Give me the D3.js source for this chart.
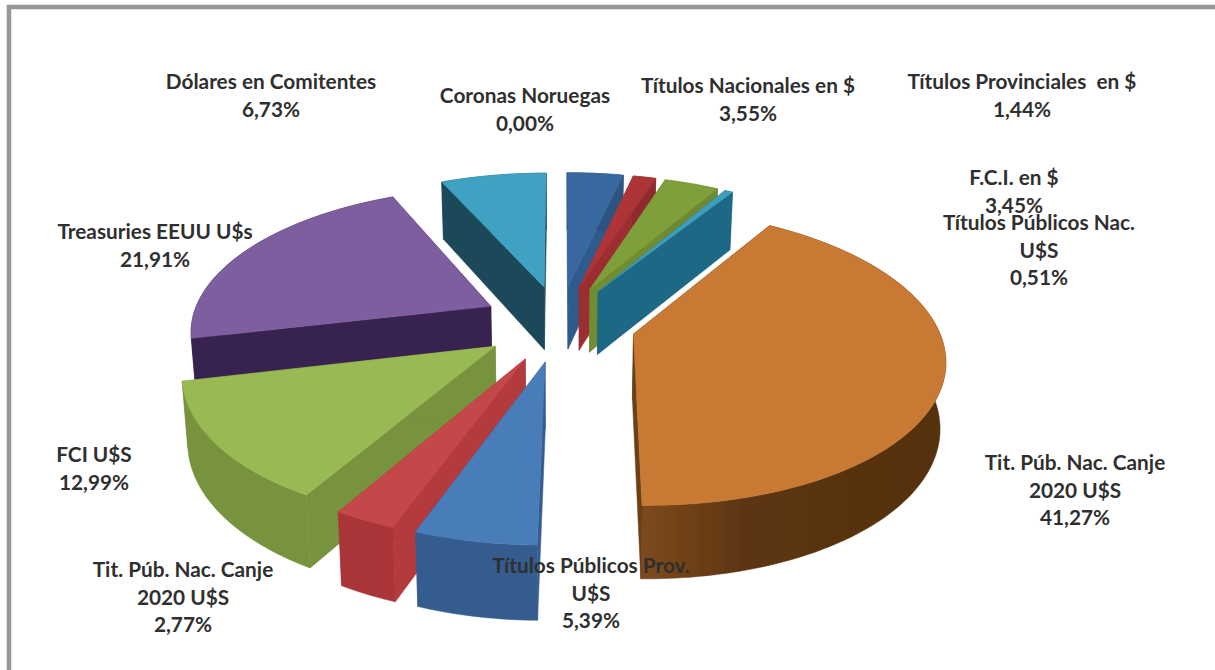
<!DOCTYPE html>
<html>
<head>
<meta charset="utf-8">
<script src="https://cdn.jsdelivr.net/npm/d3@7"></script>
<style>
  html, body { margin: 0; padding: 0; background: #fff; }
  svg { display: block; }
  .label text { font-family: Lato, "Open Sans", sans-serif; font-weight: 700; font-size: 20.8px; fill: #2f2f2f; text-anchor: middle; }
</style>
</head>
<body>
<svg width="1215" height="670"></svg>
<script>
// clockwise from 12 o'clock
const categories = [
  ["Títulos Nacionales en $"],
  ["Títulos Provinciales  en $"],
  ["F.C.I. en $"],
  ["Títulos Públicos Nac.", "U$S"],
  ["Tit. Púb. Nac. Canje", "2020 U$S"],
  ["Títulos Públicos Prov.", "U$S"],
  ["Tit. Púb. Nac. Canje", "2020 U$S"],
  ["FCI U$S"],
  ["Treasuries EEUU U$s"],
  ["Dólares en Comitentes"],
  ["Coronas Noruegas"]
];
const values = [3.55, 1.44, 3.45, 0.51, 41.27, 5.39, 2.77, 12.99, 21.91, 6.73, 0.00];

const topColors = ["#38679f", "#ad3639", "#7f9f3b", "#3f9dbb", "#c87a36", "#4a7dba", "#c44649", "#98b952", "#7d5ea0", "#3fa2c2", "#e08a3c"];
const wallColors = ["#2c5480", "#8f2a2d", "#6d8a31", "#1f6785", "#53310f", "#365c8f", "#a93538", "#77933c", "#38234f", "#1c4a5a", "#9a5a20"];
const cutColors = ["#2f5a8c", "#9c2f32", "#6f8d33", "#1f6785", "#6b3f17", "#365c8f", "#b33a3d", "#77933c", "#38234f", "#1c4a5a", "#9a5a20"];

// centre of each label, first line y
const labelX = [748, 1022, 1014, 1039, 1075, 591, 183, 94, 155, 271, 525];
const labelY = [93, 89, 185, 230, 470, 573, 577, 462, 239, 89, 103];
const lineGap = 27.5;

const svg = d3.select("svg");

const defs = svg.append("defs");
defs.append("filter").attr("id", "soft")
  .append("feGaussianBlur").attr("stdDeviation", 0.6);

svg.append("path")
  .attr("d", "M9,670V7H1215")
  .attr("fill", "none")
  .attr("stroke", "#96979a")
  .attr("stroke-width", 4.5);

// 3d pie set up
const explodeLeft = 0.262;
const explodeRight = 0.25;
const explodeY = 0.27;
const perspective = 0.153;
const depth = 64.5;
const bottomShrink = 0.985;
const cx = 560;

const xScale = d3.scaleLinear().domain([-1, 0, 1]).range([cx - 300, cx, cx + 303]);
const yScale = d3.scaleLinear().domain([-1, 1]).range([323 + 141.5, 323 - 141.5]);

const pie = d3.pie().value(d => d).sort(null);
const arcs = pie(values);

function project(a, r, mid, bottom) {
  const ex = Math.sin(mid) > 0 ? explodeRight : explodeLeft;
  const u = r * Math.sin(a) + ex * Math.sin(mid);
  const v = r * Math.cos(a) + explodeY * Math.cos(mid);
  const w = 1 + perspective * v;
  const x = xScale(u / w);
  const y = yScale(v / w);
  if (!bottom) return [x, y];
  return [cx + (x - cx) * bottomShrink, y + depth / Math.pow(w, 0.72)];
}

const line = d3.line();

function rim(d, mid, bottom) {
  const n = Math.max(2, Math.ceil((d.endAngle - d.startAngle) / 0.02));
  return d3.range(n + 1).map(i => project(d.startAngle + (d.endAngle - d.startAngle) * i / n, 1, mid, bottom));
}

const orangeWall = defs.append("linearGradient").attr("id", "orangeWall");
orangeWall.append("stop").attr("offset", "0%").attr("stop-color", "#7e4a1c");
orangeWall.append("stop").attr("offset", "35%").attr("stop-color", "#5c3512");
orangeWall.append("stop").attr("offset", "100%").attr("stop-color", "#53310f");

// draw far slices first
const order = arcs
  .filter(d => d.value > 0)
  .map(d => Object.assign({}, d, { mid: (d.startAngle + d.endAngle) / 2 }))
  .sort((a, b) => Math.cos(b.mid) - Math.cos(a.mid));

const slices = svg.append("g").attr("class", "slices")
  .attr("filter", "url(#soft)")
  .selectAll("g")
  .data(order)
  .enter()
  .append("g");

slices.each(function(d) {
  const g = d3.select(this);
  const top = rim(d, d.mid, false);
  const bot = rim(d, d.mid, true);
  const apexT = project(0, 0, d.mid, false);
  const apexB = project(0, 0, d.mid, true);
  const cut = cutColors[d.index];
  const wall = d.index === 4 ? "url(#orangeWall)" : wallColors[d.index];

  // two cut faces
  [[top[0], bot[0]], [top[top.length - 1], bot[bot.length - 1]]].forEach(p => {
    g.append("path")
      .attr("d", line([apexT, p[0], p[1], apexB]) + "Z")
      .attr("fill", cut)
      .attr("stroke", cut)
      .attr("stroke-width", 0.5);
  });
  // outer wall
  g.append("path")
    .attr("d", line(top.concat(bot.slice().reverse())) + "Z")
    .attr("fill", wall)
    .attr("stroke", wallColors[d.index])
    .attr("stroke-width", 0.5);
  // top face
  g.append("path")
    .attr("d", line([apexT].concat(top)) + "Z")
    .attr("fill", topColors[d.index])
    .attr("stroke", topColors[d.index])
    .attr("stroke-width", 0.5);
});

const fmt = d3.format(".2f");
const label = svg.append("g").attr("class", "label")
  .selectAll("text")
  .data(categories.map((c, i) => c.concat(fmt(values[i]).replace(".", ",") + "%").map(t => ({ t: t, i: i }))))
  .enter()
  .append("text")
  .style("white-space", "pre");

label.selectAll("tspan")
  .data(d => d)
  .enter()
  .append("tspan")
  .attr("x", d => labelX[d.i])
  .attr("y", (d, j) => labelY[d.i] + j * lineGap)
  .text(d => d.t);
</script>
</body>
</html>
